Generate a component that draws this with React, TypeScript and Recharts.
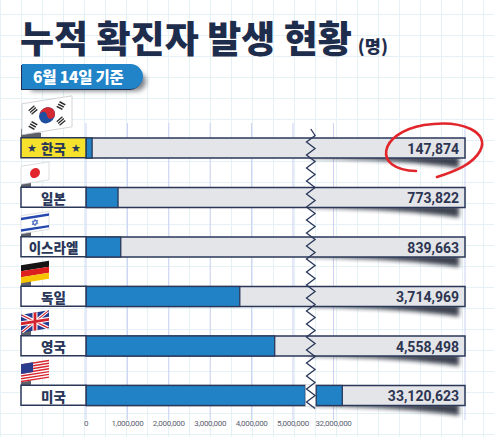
import React from 'react';
import { BarChart, Bar, XAxis, YAxis, CartesianGrid, ReferenceLine, LabelList } from 'recharts';

// ---------- data ----------
const countries = ['한국', '일본', '이스라엘', '독일', '영국', '미국'];
const cases = [147874, 773822, 839663, 3714969, 4558498, 33120623];
const tickValues = [0, 1000000, 2000000, 3000000, 4000000, 5000000, 32000000];

// ---------- broken axis mapping ----------
const BREAK_LOW = 5300000; // last value drawn on the lower scale
const BREAK_GAP = 260000; // display width of the break
const UPPER_START = 29800000; // real value where the upper scale begins
const UPPER_RATIO = 0.19; // compression of the upper scale
const DISPLAY_MAX = 9155000;

const toDisplay = (v: number) =>
  v <= BREAK_LOW ? v : BREAK_LOW + BREAK_GAP + (v - UPPER_START) * UPPER_RATIO;

const rows = countries.map((name, i) => {
  const v = cases[i];
  const d = toDisplay(v);
  const low = Math.min(d, BREAK_LOW);
  const gap = v > BREAK_LOW ? BREAK_GAP : 0;
  const high = v > BREAK_LOW ? d - BREAK_LOW - BREAK_GAP : 0;
  return { name, value: v, low, gap, high, rest: DISPLAY_MAX - low - gap - high };
});

// ---------- styles ----------
const NAVY = '#2a3759';
const BLUE = '#2182c6';
const TRACK = '#e4e5e8';
const KFONT = '"Noto Sans CJK KR", "Noto Sans", sans-serif';

function KoreaFlag({ left, barTop }: { left: number; barTop: number }) {
  const cx = 25;
  const cy = 15.5;
  const r = 8;
  const tri = (tx: number, ty: number, rot: number) => (
    <g transform={`translate(${tx},${ty}) rotate(${rot})`} fill="#2b2b2b">
      <rect x={-3.5} y={-3.2} width={7} height={1.4} />
      <rect x={-3.5} y={-0.7} width={7} height={1.4} />
      <rect x={-3.5} y={1.8} width={7} height={1.4} />
    </g>
  );
  return (
    <g>
      <polygon
        points={`${left},${barTop - 9} ${left + 20},${barTop - 5} ${left + 20},${barTop} ${left},${barTop}`}
        fill="#5d6069"
      />
      <g transform={`translate(${left + 1},${barTop - 34}) skewY(-9)`}>
        <rect x={0} y={0} width={50} height={31} fill="#ffffff" stroke="#c9cbd0" strokeWidth={0.8} />
        <circle cx={cx} cy={cy} r={r} fill="#1f4fa0" />
        <path
          d={`M${cx - r},${cy} A${r},${r} 0 0 1 ${cx + r},${cy} A${r / 2},${r / 2} 0 0 1 ${cx},${cy} A${r / 2},${r / 2} 0 0 0 ${cx - r},${cy} Z`}
          fill="#d42a34"
        />
        {tri(11, 8, -35)}
        {tri(39, 8, 35)}
        {tri(11, 23.5, 35)}
        {tri(39, 23.5, -35)}
      </g>
    </g>
  );
}

function SmallFlag({ name, left, barTop }: { name: string; left: number; barTop: number }) {
  let body: React.ReactNode = null;
  if (name === '일본') {
    body = (
      <>
        <rect width={28} height={18} fill="#fff" stroke="#cfd1d6" strokeWidth={0.7} />
        <circle cx={14} cy={9} r={5} fill="#e2262e" />
      </>
    );
  } else if (name === '이스라엘') {
    body = (
      <>
        <rect width={28} height={18} fill="#fff" stroke="#cfd1d6" strokeWidth={0.7} />
        <rect y={2} width={28} height={2.4} fill="#2448b0" />
        <rect y={13.6} width={28} height={2.4} fill="#2448b0" />
        <path d="M14,5.8 L16.8,10.6 L11.2,10.6 Z M14,12.2 L16.8,7.4 L11.2,7.4 Z" fill="none" stroke="#2448b0" strokeWidth={0.7} />
      </>
    );
  } else if (name === '독일') {
    body = (
      <>
        <rect width={28} height={6} fill="#151515" />
        <rect y={6} width={28} height={6} fill="#dd1f1f" />
        <rect y={12} width={28} height={6} fill="#f6c400" />
      </>
    );
  } else if (name === '영국') {
    body = (
      <>
        <rect width={28} height={18} fill="#253a8e" />
        <path d="M1,0.6 L27,17.4 M27,0.6 L1,17.4" stroke="#fff" strokeWidth={3.4} />
        <path d="M1,0.6 L27,17.4 M27,0.6 L1,17.4" stroke="#d2232e" strokeWidth={1.1} />
        <path d="M14,0 V18 M0,9 H28" stroke="#fff" strokeWidth={5} />
        <path d="M14,0 V18 M0,9 H28" stroke="#d2232e" strokeWidth={2.8} />
      </>
    );
  } else if (name === '미국') {
    const stripes = [];
    for (let i = 0; i < 13; i += 2) {
      stripes.push(<rect key={i} y={(i * 18) / 13} width={28} height={18 / 13} fill="#d8262f" />);
    }
    body = (
      <>
        <rect width={28} height={18} fill="#fff" />
        {stripes}
        <rect width={12} height={9.7} fill="#2b3c8e" />
      </>
    );
  }
  return (
    <g>
      <polygon
        points={`${left},${barTop - 5} ${left + 10},${barTop - 7} ${left + 10},${barTop} ${left},${barTop}`}
        fill="#5d6069"
      />
      <g transform={`translate(${left},${barTop - 21}) skewY(-9)`}>{body}</g>
    </g>
  );
}

const RowLabel = (props: any) => {
  const { x, y, payload } = props;
  const name = payload.value as string;
  const boxW = 65;
  const left = x - boxW;
  const barTop = y - 10;
  const isKorea = name === '한국';
  return (
    <g>
      {isKorea ? <KoreaFlag left={left} barTop={barTop} /> : <SmallFlag name={name} left={left} barTop={barTop} />}
      <rect
        x={left}
        y={barTop}
        width={boxW}
        height={20}
        fill={isKorea ? '#f6e22d' : '#ffffff'}
        stroke={NAVY}
        strokeWidth={1.5}
      />
      {isKorea && (
        <>
          <text x={left + 10.5} y={y + 0.5} textAnchor="middle" dominantBaseline="central" fontSize={11} fill={NAVY}>★</text>
          <text x={left + 55} y={y + 0.5} textAnchor="middle" dominantBaseline="central" fontSize={11} fill={NAVY}>★</text>
        </>
      )}
      <text
        x={left + boxW / 2}
        y={y + 0.5}
        textAnchor="middle"
        dominantBaseline="central"
        fontFamily={KFONT}
        fontWeight={900}
        fontSize={13.5}
        fill={NAVY}
      >
        {name}
      </text>
    </g>
  );
};

const XTick = (props: any) => {
  const { x, y, index } = props;
  return (
    <text
      x={x}
      y={y + 3}
      textAnchor="middle"
      dominantBaseline="central"
      fontFamily='"Liberation Sans Narrow", "Roboto", sans-serif'
      fontSize={8}
      letterSpacing={-0.3}
      fill="#5b6070"
    >
      {tickValues[index].toLocaleString('en-US')}
    </text>
  );
};

const TrackBackground = (props: any) => {
  const { x, y, width, height } = props;
  const xr = x + width;
  const yb = y + height;
  return (
    <g>
      <path
        d={`M${xr - 155},${yb} Q${xr - 60},${yb + 2} ${xr - 6},${yb + 10} L${xr - 6},${yb - 2} L${xr - 155},${yb - 2} Z`}
        fill="#1c2130"
        opacity={0.85}
        filter="url(#trackShadow)"
      />
      <rect x={x} y={y} width={width} height={height} fill={TRACK} stroke={NAVY} strokeWidth={1.5} />
    </g>
  );
};

const BlueShape = (props: any) => {
  const { x, y, width, height } = props;
  if (!width || width <= 0) return null;
  return <rect x={x} y={y} width={width} height={height} fill={BLUE} stroke={NAVY} strokeWidth={1.3} />;
};

const GapShape = (props: any) => {
  const { x, y, width, height } = props;
  if (!width || width <= 0) return null;
  return <rect x={x} y={y - 1} width={width} height={height + 2} fill="#ffffff" />;
};

const ValueLabel = (props: any) => {
  const vb = props.viewBox && props.viewBox.width !== undefined ? props.viewBox : props;
  const { x, y, width, height } = vb;
  const tx = x + width - 6;
  const ty = y + height / 2;
  const cx = tx - 25;
  const cy = ty + 1;
  return (
    <g>
      <text
        x={tx}
        y={ty + 0.5}
        textAnchor="end"
        dominantBaseline="central"
        fontFamily="Roboto, sans-serif"
        fontWeight={700}
        fontSize={14}
        fill="#2d3552"
      >
        {Number(props.value).toLocaleString('en-US')}
      </text>
      {props.index === 0 && (
        <path
          d={`M${cx - 18},${cy + 22} C${cx - 62},${cy + 21} ${cx - 56},${cy - 16} ${cx - 10},${cy - 24} C${cx + 30},${cy - 30} ${cx + 56},${cy - 16} ${cx + 46},${cy + 2} C${cx + 39},${cy + 15} ${cx + 22},${cy + 22} ${cx + 3},${cy + 28}`}
          fill="none"
          stroke="#e1262c"
          strokeWidth={2.6}
          strokeLinecap="round"
        />
      )}
    </g>
  );
};

// zigzag break mark, drawn from the reference line's own viewBox
const ZigzagLabel = (props: any) => {
  const vb = props.viewBox || {};
  const x0 = vb.x;
  const top = vb.y + 6;
  const bottom = vb.y + vb.height - 7;
  if (x0 === undefined || isNaN(top)) return null;
  const amp = 4.3;
  const half = 6.5;
  let d = `M${x0},${top}`;
  let i = 0;
  for (let yy = top + half; yy <= bottom; yy += half) {
    d += ` L${x0 + (i % 2 === 0 ? amp : -amp)},${yy}`;
    i++;
  }
  return <path d={d} fill="none" stroke={NAVY} strokeWidth={1.3} strokeLinejoin="miter" />;
};

export default function App() {
  return (
    <div
      style={{
        position: 'absolute',
        left: 0,
        top: 0,
        width: 494,
        height: 437,
        overflow: 'hidden',
        backgroundColor: '#ffffff',
        backgroundImage:
          'linear-gradient(#e4f2f6 1px, transparent 1px), linear-gradient(90deg, #e4f2f6 1px, transparent 1px)',
        backgroundSize: '21px 21px',
        backgroundPosition: '0px 14px',
      }}
    >
      <svg width={0} height={0} style={{ position: 'absolute' }}>
        <defs>
          <filter id="trackShadow" x="-20%" y="-100%" width="140%" height="300%">
            <feGaussianBlur stdDeviation="2" />
          </filter>
        </defs>
      </svg>
      <div
        style={{
          position: 'absolute',
          left: 20,
          top: 19,
          fontFamily: KFONT,
          fontWeight: 900,
          fontSize: 37,
          lineHeight: '37px',
          letterSpacing: 0,
          color: '#1f2d4d',
          whiteSpace: 'nowrap',
        }}
      >
        누적 확진자 발생 현황
        <span style={{ fontSize: 17.5, marginLeft: 6, letterSpacing: 0 }}>(명)</span>
      </div>
      <div
        style={{
          position: 'absolute',
          left: 22,
          top: 64,
          width: 121,
          height: 25,
          background: '#2184c8',
          borderRadius: '0 13px 13px 0',
          boxShadow: '-1px 1px 0 #1d2f55, 6px 5px 5px -3px rgba(20,25,40,0.55)',
          color: '#ffffff',
          fontFamily: KFONT,
          fontWeight: 900,
          fontSize: 15.5,
          lineHeight: '25px',
          paddingLeft: 11,
          boxSizing: 'border-box',
          letterSpacing: -0.2,
          whiteSpace: 'nowrap',
        }}
      >
        6월 14일 기준
      </div>
      <div style={{ position: 'absolute', left: 0, top: 0 }}>
        <BarChart
          width={494}
          height={437}
          layout="vertical"
          data={rows}
          margin={{ top: 123, right: 29, bottom: 3, left: 21 }}
          barSize={20}
        >
          <CartesianGrid horizontal={false} stroke="#cbd1f2" strokeWidth={1} />
          <XAxis
            type="number"
            domain={[0, DISPLAY_MAX]}
            ticks={tickValues.map(toDisplay)}
            interval={0}
            tick={XTick}
            axisLine={false}
            tickLine={false}
            tickSize={0}
            tickMargin={0}
            height={14}
            allowDataOverflow
          />
          <YAxis
            type="category"
            dataKey="name"
            width={65}
            interval={0}
            tick={RowLabel}
            axisLine={false}
            tickLine={false}
            tickSize={0}
            tickMargin={0}
          />
          <Bar dataKey="low" stackId="a" background={TrackBackground} shape={BlueShape} isAnimationActive={false} />
          <Bar dataKey="gap" stackId="a" shape={GapShape} isAnimationActive={false} />
          <Bar dataKey="high" stackId="a" shape={BlueShape} isAnimationActive={false} />
          <Bar dataKey="rest" stackId="a" fill="none" isAnimationActive={false}>
            <LabelList dataKey="value" content={ValueLabel} />
          </Bar>
          <ReferenceLine
            x={BREAK_LOW + BREAK_GAP / 2}
            stroke="none"
            strokeOpacity={0}
            label={ZigzagLabel}
          />
        </BarChart>
      </div>
    </div>
  );
}
